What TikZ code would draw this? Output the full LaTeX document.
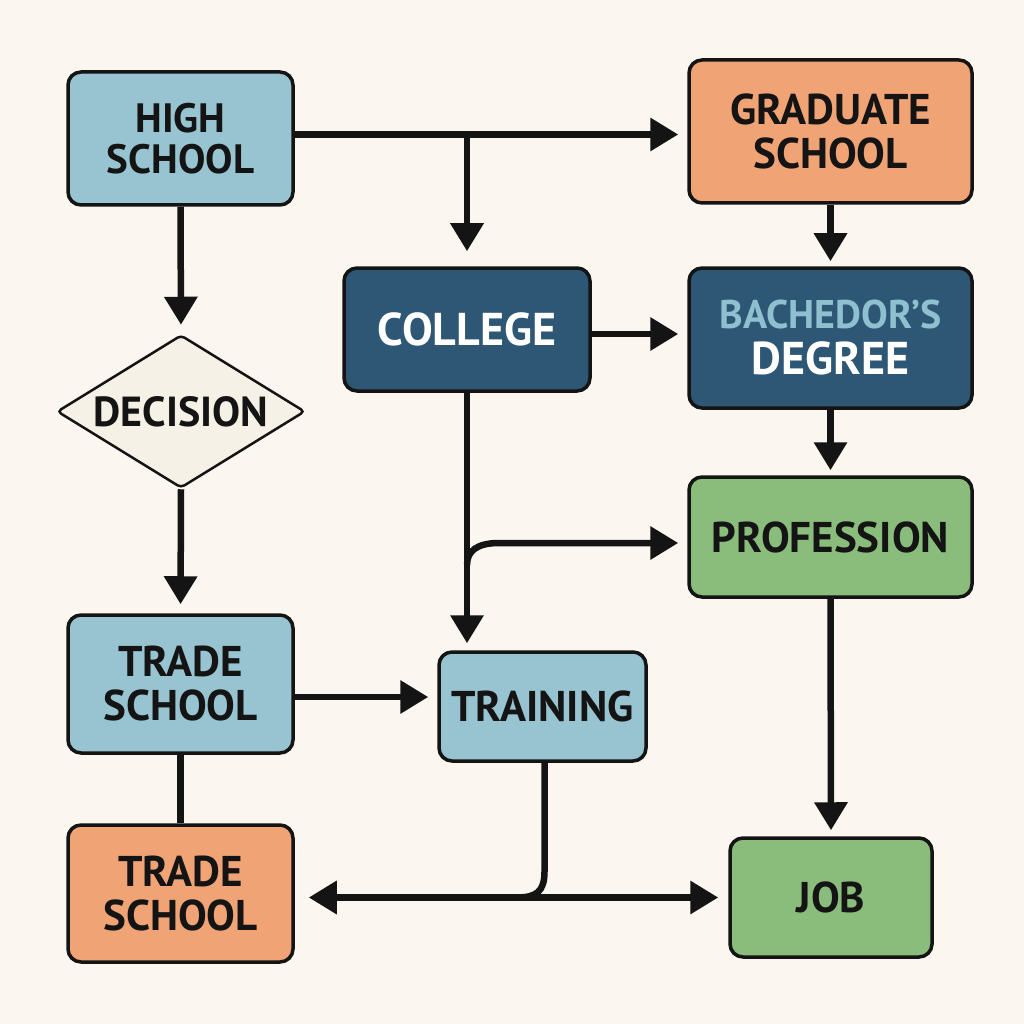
\documentclass[tikz,border=0pt]{standalone}
\usepackage{fontspec}
\setmainfont{PT Sans}
\usetikzlibrary{arrows.meta,shapes.geometric,calc}
\definecolor{bg}{HTML}{FBF6F0}
\definecolor{lblue}{HTML}{97C4D0}
\definecolor{orng}{HTML}{F0A475}
\definecolor{dblue}{HTML}{2E5675}
\definecolor{grn}{HTML}{8ABD7C}
\definecolor{decfill}{HTML}{F6F1E6}
\definecolor{bachtext}{HTML}{8FC0CF}
\definecolor{ink}{HTML}{141414}
\begin{document}
\begin{tikzpicture}[x=1pt,y=-1pt,
  box/.style={draw=ink,line width=3.5pt,rounded corners=13pt,align=center,
    font=\bfseries\fontsize{43}{44}\selectfont,inner sep=0pt,text=ink},
  conn/.style={line width=6.5pt,draw=ink},
  arr/.style={conn,-{Triangle[length=28pt,width=32pt]}},
  darr/.style={conn,{Triangle[length=28pt,width=32pt]}-{Triangle[length=28pt,width=32pt]}},
]
\fill[bg] (0,0) rectangle (1024,1024);
\useasboundingbox (0,0) rectangle (1024,1024);

% nodes
\node[box,fill=lblue,minimum width=225pt,minimum height=133pt,font=\bfseries\fontsize{41}{41}\selectfont] (hs) at (180.5,138.5) {HIGH\\SCHOOL};
\node[box,fill=orng,minimum width=283pt,minimum height=143pt] (grad) at (830.5,131.5) {GRADUATE\\SCHOOL};
\node[box,fill=dblue,text=white,minimum width=246pt,minimum height=123pt,font=\bfseries\fontsize{46}{46}\selectfont] (college) at (467,329.5) {COLLEGE};
\node[box,fill=dblue,text=white,minimum width=283pt,minimum height=140pt] (bach) at (830.5,338) {\textcolor{bachtext}{\fontsize{40}{40}\selectfont BACHEDOR'S}\\[2pt]{\fontsize{46}{46}\selectfont DEGREE}};
\node[box,diamond,fill=decfill,line width=2.5pt,rounded corners=4pt,aspect=1.62,minimum width=248pt,minimum height=153pt,font=\bfseries\fontsize{42}{42}\selectfont] (dec) at (181,411.5) {DECISION};
\node[box,fill=grn,minimum width=283pt,minimum height=120pt] (prof) at (830.5,537) {PROFESSION};
\node[box,fill=lblue,minimum width=225pt,minimum height=138pt] (ts1) at (180.5,684) {TRADE\\SCHOOL};
\node[box,fill=lblue,minimum width=207pt,minimum height=109pt] (train) at (542.5,706.5) {TRAINING};
\node[box,fill=orng,minimum width=225pt,minimum height=137pt] (ts2) at (180.5,893.5) {TRADE\\SCHOOL};
\node[box,fill=grn,minimum width=202pt,minimum height=119pt] (job) at (831,897.5) {JOB};

% connectors
\coordinate (hsr) at ([yshift=4pt]hs.east);
\draw[arr,shorten >=9pt] (hsr) -- (hsr -| grad.west);
\coordinate (brA) at (hsr -| college.north);
\draw[arr,shorten >=15pt] (brA) -- (college.north);
\draw[arr,shorten >=9pt] (hs.south) -- (dec.north);
\draw[arr,shorten >=9pt] (dec.south) -- (ts1.north);
\coordinate (colr) at ([yshift=-4.5pt]college.east);
\draw[arr,shorten >=9pt] (colr) -- (colr -| bach.west);
\draw[arr,shorten >=5pt] (grad.south) -- (bach.north);
\draw[arr,shorten >=5pt] (bach.south) -- (prof.north);
\draw[arr,shorten >=7pt] (college.south) -- (college.south |- train.north);
\coordinate (profl) at ([yshift=-6pt]prof.west);
\coordinate (brB) at ($(college.south |- profl)+(0,22)$);
\draw[arr,shorten >=9pt] (brB) .. controls ($(brB)+(0,-14)$) and ($(brB)+(10,-22)$) .. ($(brB)+(32,-22)$) -- (profl);
\coordinate (tsr) at ([yshift=-13pt]ts1.east);
\draw[arr,shorten >=9pt] (tsr) -- (tsr -| train.west);
\draw[conn] (ts1.south) -- (ts2.north);
\draw[darr,shorten <=14pt,shorten >=10pt] (ts2.east |- job.west) -- (job.west);
\coordinate (trb) at ([xshift=2pt]train.south);
\coordinate (mrg) at (trb |- job.west);
\draw[conn] (trb) -- ($(mrg)+(0,-26)$) .. controls ($(mrg)+(0,-6)$) and ($(mrg)+(-8,0)$) .. ($(mrg)+(-28,0)$);
\draw[arr,shorten >=6pt] (prof.south) -- (job.north);
\end{tikzpicture}
\end{document}
